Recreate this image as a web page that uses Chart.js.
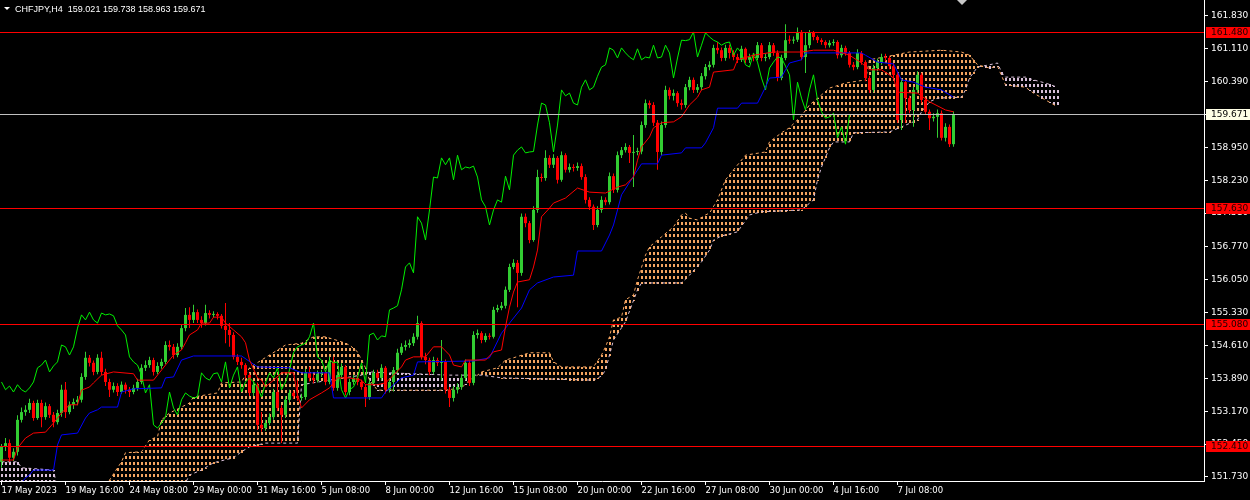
<!DOCTYPE html>
<html lang="en">
<head>
<meta charset="UTF-8">
<title>CHFJPY,H4</title>
<script src="https://cdn.jsdelivr.net/npm/chart.js"></script>
<style>
  html, body { margin: 0; padding: 0; background: #000; }
  #wrap { width: 1250px; height: 500px; }
</style>
</head>
<body>
<div id="wrap"><canvas id="chart" width="1250" height="500"></canvas></div>
<script>
// ---- data (H4 bars, one per index) ----
const symbolTitle = 'CHFJPY,H4  159.021 159.738 158.963 159.671';
const firstOpen = 152.06;

const closes = [
  152.39,152.47,152.15,152.28,152.98,153.15,153.20,153.35,153.02,153.35,
  153.04,153.28,153.09,152.93,153.13,153.64,153.15,153.31,153.37,153.42,
  153.92,154.34,154.23,154.03,154.34,154.03,153.81,153.64,153.72,153.59,
  153.75,153.64,153.59,153.68,153.81,154.12,154.18,154.29,154.03,154.16,
  154.25,154.62,154.58,154.40,154.58,154.99,155.28,155.17,155.34,155.17,
  155.10,155.32,155.28,155.30,155.26,155.04,154.95,154.84,154.36,154.25,
  154.18,153.96,153.57,153.75,152.87,152.80,152.91,153.04,153.59,153.24,
  153.09,153.42,153.57,153.50,153.46,153.48,154.01,153.90,153.85,153.99,
  154.01,153.81,154.25,153.68,153.96,154.14,153.59,153.81,153.90,153.81,
  153.70,153.48,153.79,154.01,153.90,154.12,153.64,153.81,154.07,154.45,
  154.58,154.62,154.66,154.80,155.10,154.36,154.29,154.03,154.29,154.23,
  154.25,153.64,153.46,153.64,153.70,153.90,154.23,153.79,154.84,154.88,
  154.73,154.82,154.80,155.39,155.43,155.48,155.83,156.33,156.42,156.20,
  157.43,157.29,156.92,157.58,158.30,158.28,158.72,158.57,158.72,158.24,
  158.78,158.46,158.52,158.50,158.54,158.30,157.80,157.65,157.25,157.58,
  157.80,157.75,158.32,158.02,158.78,158.89,158.96,158.83,158.85,158.86,
  159.44,159.92,159.88,159.49,158.85,159.44,160.21,160.08,160.14,159.92,
  159.88,160.27,160.43,160.21,160.27,160.51,160.71,160.76,161.13,161.08,
  160.91,161.13,161.02,160.93,160.87,161.11,160.87,160.93,160.91,161.19,
  160.91,160.93,161.19,161.02,160.47,160.91,161.30,161.29,161.31,161.48,
  160.93,161.19,161.46,161.37,161.30,161.26,161.19,161.24,161.26,160.97,
  161.13,161.02,160.76,160.71,161.02,160.82,160.47,160.21,160.69,160.82,
  160.93,160.91,160.73,160.54,159.55,160.38,160.03,159.77,160.21,160.54,
  159.99,159.73,159.59,159.62,159.70,159.16,159.40,159.021,159.671
];
const highs = [
  152.45,152.58,152.55,152.36,153.08,153.25,153.30,153.44,153.40,153.42,
  153.42,153.36,153.33,153.15,153.20,153.75,153.81,153.38,153.45,153.50,
  154.00,154.47,154.40,154.28,154.42,154.47,154.10,153.88,153.80,153.78,
  153.82,153.80,153.70,153.75,153.88,154.20,154.28,154.36,154.34,154.24,
  154.32,154.70,154.72,154.64,154.66,155.08,155.43,155.45,155.50,155.40,
  155.25,155.50,155.38,155.36,155.34,155.30,155.54,155.10,154.90,154.42,
  154.34,154.22,154.00,153.82,153.80,153.15,152.98,153.12,153.66,153.90,
  153.30,153.50,153.64,153.62,153.85,153.55,154.10,154.14,153.98,154.06,
  154.08,154.08,154.36,154.36,154.04,154.22,154.18,153.88,153.97,153.95,
  153.86,153.76,153.86,154.08,154.08,154.20,154.16,153.88,154.14,154.54,
  154.66,154.72,154.74,154.88,155.26,155.14,154.45,154.34,154.36,154.34,
  154.73,154.30,153.70,153.72,153.78,153.98,154.30,154.28,154.92,154.96,
  154.92,154.88,154.88,155.46,155.50,155.56,155.90,156.40,156.50,156.48,
  157.50,157.50,157.34,157.66,158.46,158.38,158.89,158.78,158.80,158.76,
  158.86,158.82,158.60,158.58,158.62,158.60,158.36,157.86,157.70,157.66,
  157.88,157.86,158.40,158.38,158.86,158.96,159.04,159.00,159.22,158.94,
  159.52,160.00,159.98,159.94,159.55,159.52,160.30,160.26,160.22,160.18,
  160.00,160.34,160.50,160.48,160.34,160.58,160.78,160.84,161.20,161.26,
  161.14,161.20,161.20,161.08,161.00,161.18,161.14,161.00,161.00,161.26,
  161.24,161.00,161.26,161.24,161.08,160.98,161.65,161.40,161.38,161.58,
  161.52,161.46,161.52,161.50,161.40,161.34,161.30,161.30,161.32,161.30,
  161.20,161.18,161.06,160.82,161.10,161.06,160.86,160.52,160.76,160.90,
  161.00,161.00,160.96,160.80,160.60,160.46,160.44,160.08,160.28,160.62,
  160.58,160.04,159.78,159.70,159.78,159.76,159.48,159.45,159.738
];
const lows = [
  151.93,152.30,152.06,152.08,152.20,152.92,153.07,153.13,152.96,152.98,
  152.82,152.98,153.02,152.82,152.88,153.05,153.02,153.10,153.22,153.30,
  153.36,153.86,154.15,153.96,153.98,153.96,153.72,153.48,153.58,153.50,
  153.55,153.56,153.48,153.54,153.62,153.76,154.05,154.12,153.95,153.98,
  154.10,154.20,154.50,154.32,154.35,154.52,154.92,154.99,155.10,155.10,
  155.00,155.05,155.20,155.22,155.18,154.98,154.66,154.58,154.30,154.18,
  154.10,153.88,153.50,153.50,152.76,152.72,152.74,152.86,152.98,153.18,
  152.47,153.02,153.36,153.44,153.40,153.40,153.42,153.82,153.78,153.80,
  153.92,153.74,153.76,153.62,153.62,153.90,153.52,153.52,153.75,153.74,
  153.64,153.26,153.42,153.74,153.84,153.84,153.56,153.58,153.60,154.00,
  154.40,154.50,154.56,154.60,154.74,154.30,154.20,153.96,153.98,154.16,
  153.85,153.56,153.26,153.38,153.56,153.64,153.85,153.72,153.74,154.76,
  154.66,154.68,154.74,154.76,155.34,155.38,155.42,155.78,156.28,155.45,
  156.14,157.20,156.85,156.88,157.52,158.20,158.22,158.50,158.50,158.16,
  158.20,158.40,158.40,158.42,158.44,158.24,157.72,157.58,157.14,157.20,
  157.52,157.68,157.70,157.95,157.96,158.72,158.84,158.61,158.08,158.78,
  158.80,159.38,159.80,159.42,158.46,158.78,159.38,160.00,159.98,159.84,
  159.78,159.82,160.20,160.14,160.15,160.20,160.44,160.64,160.70,161.00,
  160.84,160.85,160.90,160.86,160.80,160.82,160.80,160.80,160.84,160.86,
  160.84,160.84,160.88,160.96,160.40,160.42,160.86,161.22,161.22,161.26,
  160.86,160.58,161.12,161.30,161.24,161.20,161.12,161.14,161.18,160.90,
  160.92,160.96,160.70,160.64,160.66,160.76,160.40,160.14,160.16,160.62,
  160.76,160.84,160.66,160.46,159.49,159.33,159.49,159.70,159.40,160.14,
  159.92,159.66,159.33,159.52,159.16,159.10,159.08,158.96,158.963
];

// Ichimoku lines, read as [bar, price] vertices
const tenkanLine = [[0,152.10],[3,152.10],[4,152.36],[6,152.58],[8,152.69],[11,152.71],[13,152.91],[14,153.02],[15,153.13],[17,153.31],[19,153.31],[20,153.63],[22,153.70],[23,153.79],[25,153.96],[28,154.03],[33,153.99],[34,153.85],[38,153.85],[41,154.18],[43,154.40],[45,154.51],[46,154.67],[47,154.84],[49,154.95],[50,155.10],[52,155.10],[53,155.23],[55,155.23],[56,155.10],[58,154.95],[60,154.80],[61,154.67],[62,154.29],[64,153.90],[65,153.85],[66,153.70],[68,153.85],[70,154.01],[73,154.01],[74,153.53],[75,153.24],[77,153.42],[80,153.57],[82,153.68],[84,153.90],[87,153.90],[90,153.85],[91,153.75],[94,153.75],[96,153.79],[98,153.96],[100,154.14],[101,154.29],[103,154.36],[106,154.36],[107,154.47],[108,154.58],[110,154.58],[112,154.40],[113,154.18],[115,154.14],[116,154.29],[121,154.29],[123,154.47],[125,154.51],[126,155.02],[127,155.45],[128,155.78],[129,156.00],[132,156.05],[133,156.33],[134,156.70],[135,157.43],[137,157.62],[138,157.73],[141,157.84],[144,158.06],[147,157.97],[151,157.95],[154,158.08],[156,158.13],[158,158.30],[159,158.67],[160,158.96],[162,159.18],[163,159.38],[165,159.49],[168,159.51],[170,159.62],[172,159.88],[174,160.05],[175,160.21],[177,160.27],[178,160.60],[183,160.65],[184,160.87],[188,160.97],[193,161.04],[200,161.04],[203,161.08],[208,161.08],[212,160.97],[215,160.80],[217,160.65],[220,160.65],[222,160.54],[223,160.47],[224,160.16],[229,160.14],[232,159.95],[236,159.77],[238,159.73]];
const kijunLine = [[5,151.60],[6,151.71],[7,151.77],[8,151.88],[13,151.88],[14,152.43],[15,152.65],[19,152.69],[21,153.02],[22,153.13],[24,153.20],[25,153.26],[29,153.26],[30,153.59],[33,153.66],[40,153.68],[41,153.90],[43,153.92],[45,154.29],[48,154.38],[60,154.38],[64,154.14],[72,154.12],[75,154.01],[82,154.01],[83,153.46],[95,153.46],[96,153.59],[100,153.90],[103,153.96],[104,154.25],[118,154.27],[122,154.34],[125,154.88],[128,155.21],[130,155.43],[132,155.83],[134,155.98],[138,156.11],[143,156.15],[144,156.68],[150,156.68],[152,157.03],[153,157.25],[155,157.91],[160,158.59],[164,158.59],[165,158.78],[170,158.83],[171,158.94],[175,158.94],[176,159.05],[178,159.38],[179,159.81],[184,159.81],[185,159.92],[189,159.92],[191,160.27],[192,160.47],[195,160.49],[196,160.65],[197,160.80],[200,160.87],[201,161.02],[215,161.02],[216,160.97],[219,160.82],[223,160.78],[225,160.43],[228,160.38],[231,160.27],[235,160.21],[238,160.05]];
const senkouA = [[0,151.40],[26,151.44],[27,151.66],[30,152.06],[31,152.26],[35,152.28],[37,152.54],[39,152.61],[40,152.98],[42,153.13],[45,153.26],[47,153.35],[48,153.48],[54,153.57],[55,153.79],[60,153.81],[62,154.12],[65,154.29],[69,154.51],[71,154.62],[75,154.66],[78,154.80],[81,154.80],[85,154.69],[87,154.62],[89,154.47],[90,154.29],[91,154.12],[92,153.85],[94,153.63],[111,153.63],[115,153.68],[117,153.85],[119,153.96],[120,154.03],[124,154.12],[126,154.29],[128,154.34],[132,154.45],[137,154.45],[138,154.25],[140,154.14],[148,154.14],[150,154.40],[151,154.58],[152,154.80],[153,155.17],[155,155.23],[156,155.61],[158,155.72],[159,156.05],[161,156.59],[162,156.77],[165,156.99],[168,157.21],[170,157.47],[171,157.51],[172,157.40],[174,157.36],[176,157.47],[177,157.51],[179,157.80],[181,158.24],[186,158.78],[191,158.85],[192,159.07],[195,159.27],[197,159.38],[200,159.64],[202,159.88],[205,160.10],[207,160.25],[211,160.36],[216,160.43],[217,160.87],[223,160.97],[227,161.04],[235,161.08],[240,161.04],[242,160.97],[244,160.76],[247,160.69],[249,160.73],[251,160.32],[256,160.27],[258,160.14],[261,159.99],[264,159.84]];
const senkouB = [[0,152.06],[4,152.06],[5,151.93],[13,151.88],[14,151.44],[45,151.44],[47,151.77],[50,151.88],[53,152.04],[58,152.15],[60,152.28],[62,152.39],[66,152.47],[74,152.47],[75,153.75],[82,153.85],[90,153.96],[92,154.03],[97,154.01],[112,153.96],[120,153.96],[125,153.90],[148,153.85],[150,153.94],[151,154.07],[152,154.40],[153,154.73],[156,155.13],[159,155.83],[160,155.98],[170,155.98],[172,156.15],[175,156.44],[177,156.70],[178,156.92],[180,157.01],[184,157.10],[187,157.47],[190,157.54],[200,157.58],[203,157.80],[204,158.24],[205,158.52],[207,158.94],[208,159.07],[212,159.07],[213,159.27],[222,159.29],[225,159.40],[229,159.55],[230,159.73],[232,159.95],[234,160.03],[240,160.05],[241,160.21],[242,160.47],[244,160.71],[247,160.76],[249,160.80],[250,160.60],[251,160.49],[256,160.49],[258,160.43],[261,160.36],[264,160.27]];
const chikouShift = 26;

const levelLines = [161.48, 157.63, 155.08, 152.41];
const lastPrice = 159.671;

const priceTicks = [161.83,161.11,160.39,159.67,158.95,158.23,157.51,156.77,156.05,155.33,154.61,153.89,153.17,152.45,151.73];
const dateTickBars = [0,16,32,48,64,80,96,112,128,144,160,176,192,208,224];
const dateLabels = ['17 May 2023','19 May 16:00','24 May 08:00','29 May 00:00','31 May 16:00','5 Jun 08:00','8 Jun 00:00','12 Jun 16:00','15 Jun 08:00','20 Jun 00:00','22 Jun 16:00','27 Jun 08:00','30 Jun 00:00','4 Jul 16:00','7 Jul 08:00'];

// ---- build chart data ----
const opens = closes.map((c, i) => i === 0 ? firstOpen : closes[i - 1]);
const upColor = '#32cd32', downColor = '#ff0000';
const kumoUp = '#f4a460', kumoDown = '#d8bfd8';
const candleColors = closes.map((c, i) => c >= opens[i] ? upColor : downColor);
const wickData = closes.map((c, i) => ({ x: i, y: [lows[i], highs[i]] }));
const bodyData = closes.map((c, i) => ({ x: i, y: [opens[i], c] }));
const chikouData = closes.slice(chikouShift).map((c, i) => ({ x: i, y: c }));
const toPts = arr => arr.map(p => ({ x: p[0], y: p[1] }));

// value of a vertex line at a bar (same straight segments the line dataset draws)
function valueAt(pts, b) {
  if (b <= pts[0][0]) return pts[0][1];
  for (let k = 1; k < pts.length; k++) {
    if (b <= pts[k][0]) {
      const [x0, y0] = pts[k - 1], [x1, y1] = pts[k];
      return y0 + (y1 - y0) * (b - x0) / (x1 - x0);
    }
  }
  return pts[pts.length - 1][1];
}

// dotted histogram between the two senkou spans, one column per bar
const kumo = {
  id: 'kumo',
  beforeDatasetsDraw(chart) {
    const { ctx, chartArea: a, scales: { x, y } } = chart;
    ctx.save();
    ctx.beginPath(); ctx.rect(a.left, a.top, a.width, a.height); ctx.clip();
    const lastBar = senkouA[senkouA.length - 1][0];
    for (let b = 0; b <= lastBar; b++) {
      const va = valueAt(senkouA, b), vb = valueAt(senkouB, b);
      const px = Math.floor(x.getPixelForValue(b));
      const top = Math.round(y.getPixelForValue(Math.max(va, vb)));
      const bot = Math.round(y.getPixelForValue(Math.min(va, vb)));
      ctx.fillStyle = va >= vb ? kumoUp : kumoDown;
      for (let py = Math.max(top, 0); py <= Math.min(bot, a.bottom); py++) {
        if (py % 6 < 3) ctx.fillRect(px, py, 2, 1);
      }
    }
    ctx.restore();
  }
};

const overlay = {
  id: 'mtOverlay',
  afterDatasetsDraw(chart) {
    const { ctx, chartArea: a, scales: { y } } = chart;
    ctx.save();
    ctx.lineWidth = 1;
    ctx.strokeStyle = '#ff0000';
    levelLines.forEach(v => {
      const py = Math.round(y.getPixelForValue(v)) + 0.5;
      ctx.beginPath(); ctx.moveTo(a.left, py); ctx.lineTo(a.right, py); ctx.stroke();
    });
    const pl = Math.round(y.getPixelForValue(lastPrice)) + 0.5;
    ctx.strokeStyle = '#c0c0c0';
    ctx.beginPath(); ctx.moveTo(a.left, pl); ctx.lineTo(a.right, pl); ctx.stroke();
    ctx.restore();
  },
  afterDraw(chart) {
    const { ctx, chartArea: a, scales: { x, y } } = chart;
    ctx.save();
    ctx.font = '9px "DejaVu Sans"';
    ctx.textBaseline = 'middle';
    const tag = (v, bg, fg) => {
      const py = Math.round(y.getPixelForValue(v));
      ctx.fillStyle = bg;
      ctx.fillRect(a.right + 2, py - 5, 44, 11);
      ctx.fillStyle = fg;
      ctx.fillText(v.toFixed(3), a.right + 7, py + 1);
    };
    levelLines.forEach(v => tag(v, '#ff0000', '#1a0000'));
    tag(lastPrice, '#ffffe6', '#000000');

    // title
    ctx.fillStyle = '#ffffff';
    ctx.beginPath(); ctx.moveTo(4, 7); ctx.lineTo(10, 7); ctx.lineTo(7, 10); ctx.closePath(); ctx.fill();
    ctx.font = '9px "Liberation Sans"';
    ctx.textBaseline = 'alphabetic';
    ctx.fillText(symbolTitle, 15, 12);

    // chart shift marker
    const sx = Math.round(x.getPixelForValue(240));
    ctx.fillStyle = '#c8c8c8';
    ctx.beginPath(); ctx.moveTo(sx - 5, 0); ctx.lineTo(sx + 5, 0); ctx.lineTo(sx, 5); ctx.closePath(); ctx.fill();
    ctx.restore();
  }
};

const lineBase = { type: 'line', pointRadius: 0, borderWidth: 1, tension: 0, fill: false };

new Chart(document.getElementById('chart'), {
  type: 'bar',
  data: {
    datasets: [
      { ...lineBase, data: toPts(senkouA), borderColor: kumoUp, borderDash: [3, 3], order: 10 },
      { ...lineBase, data: toPts(senkouB), borderColor: kumoDown, borderDash: [3, 3], order: 9 },
      { type: 'bar', data: wickData, backgroundColor: candleColors, barThickness: 1, grouped: false,
        borderWidth: 0, inflateAmount: 0, order: 6 },
      { type: 'bar', data: bodyData, backgroundColor: candleColors, barThickness: 3, grouped: false,
        borderWidth: 0, inflateAmount: 0, minBarLength: 1, order: 5 },
      { ...lineBase, data: chikouData, borderColor: '#00f000', order: 3 },
      { ...lineBase, data: toPts(kijunLine), borderColor: '#0000ff', order: 2 },
      { ...lineBase, data: toPts(tenkanLine), borderColor: '#ff0000', order: 1 }
    ]
  },
  options: {
    responsive: false,
    animation: false,
    events: [],
    layout: { padding: 0 },
    plugins: { legend: { display: false }, tooltip: { enabled: false } },
    scales: {
      x: {
        type: 'linear', min: -0.375, max: 300.625, offset: false,
        grid: { display: true, drawOnChartArea: false, drawTicks: true, tickLength: 4, color: '#ffffff', offset: false },
        border: { display: true, color: '#ffffff' },
        ticks: { color: '#ffffff', font: { family: 'DejaVu Sans', size: 8.5 }, align: 'start', padding: 1,
                 autoSkip: false, maxRotation: 0, callback: (v, i) => dateLabels[i] },
        afterBuildTicks: s => { s.ticks = dateTickBars.map(b => ({ value: b })); },
        afterFit: s => { s.height = 19; s.paddingLeft = 0; s.paddingRight = 0; }
      },
      y: {
        position: 'right', min: 151.64, max: 162.18,
        grid: { display: true, drawOnChartArea: false, drawTicks: true, tickLength: 4, color: '#ffffff' },
        border: { display: true, color: '#ffffff' },
        ticks: { color: '#ffffff', font: { family: 'DejaVu Sans', size: 9 }, padding: 3, autoSkip: false,
                 callback: v => v.toFixed(3) },
        afterBuildTicks: s => { s.ticks = priceTicks.map(v => ({ value: v })); },
        afterFit: s => { s.width = 46; s.paddingTop = 0; s.paddingBottom = 0; }
      }
    }
  },
  plugins: [kumo, overlay]
});
</script>
</body>
</html>
